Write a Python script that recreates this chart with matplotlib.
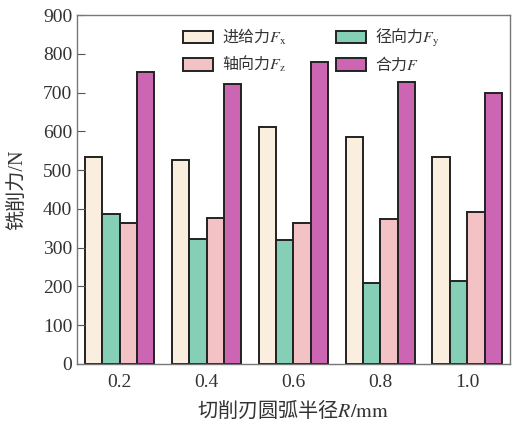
import matplotlib
matplotlib.use("Agg")
import matplotlib.pyplot as plt
import numpy as np

plt.rcParams['font.family'] = ['Liberation Serif', 'Noto Sans CJK SC']
plt.rcParams['mathtext.fontset'] = 'stix'

categories = ['0.2', '0.4', '0.6', '0.8', '1.0']
Fx = [535, 525, 611, 585, 535]
Fy = [386, 322, 320, 210, 215]
Fz = [364, 376, 363, 373, 393]
F = [753, 721, 780, 726, 700]

series = [Fx, Fy, Fz, F]
labels = ['进给力$F_\\mathrm{x}$', '径向力$F_\\mathrm{y}$', '轴向力$F_\\mathrm{z}$', '合力$F$']
colors = ['#FAEEDF', '#85CFB6', '#F2C2C4', '#CC66B2']

fig = plt.figure(figsize=(5.15, 4.23), dpi=100)
ax = fig.add_axes([0.1495, 0.1395, 0.8405, 0.825])

x = np.arange(len(categories))
w = 0.2
handles = []
for i, (vals, lab, c) in enumerate(zip(series, labels, colors)):
    b = ax.bar(x + (i - 1.5) * w, vals, width=w, color=c, edgecolor='#222222',
               linewidth=1.4, label=lab)
    handles.append(b)

ax.set_xlim(-0.49, 4.49)
ax.set_ylim(0, 900)
ax.set_yticks(range(0, 901, 100))
ax.set_xticks(x)
ax.set_xticklabels(categories)
ax.tick_params(axis='x', length=0, labelsize=14, colors='#333333', pad=7)
ax.tick_params(axis='y', direction='in', length=6, labelsize=14, colors='#555555',
               labelcolor='#333333')
for s in ax.spines.values():
    s.set_color('#777777')
    s.set_linewidth(1.0)

ax.set_xlabel('切削刃圆弧半径$R\\mathrm{/mm}$', fontsize=14.5, color='#333333',
              labelpad=6, fontfamily='Noto Sans CJK SC')
ax.set_ylabel('铣削力/N', fontsize=14.5, color='#333333', labelpad=11)

# legend ordered as in reference: row1 Fx, Fy ; row2 Fz, F
order = [0, 2, 1, 3]
leg = ax.legend([handles[k] for k in order], [labels[k] for k in order], ncol=2,
                loc='upper left', bbox_to_anchor=(0.227, 0.99), frameon=False,
                prop={'family': 'Noto Sans CJK SC', 'size': 11.5},
                handlelength=1.85, handleheight=0.85, columnspacing=3.05,
                handletextpad=0.6, labelspacing=0.45, borderpad=0)
for t in leg.get_texts():
    t.set_color('#333333')

fig.savefig('out.png', dpi=100)
